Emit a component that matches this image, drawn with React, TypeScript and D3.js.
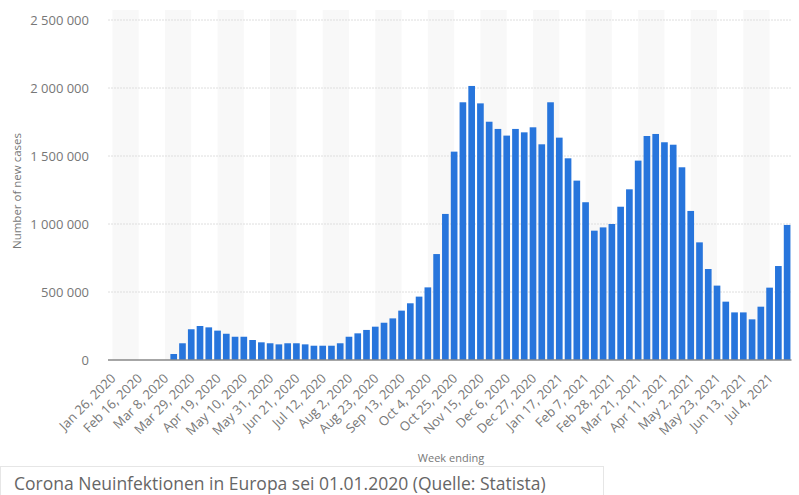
import React, { useEffect, useRef } from 'react';
import * as d3 from 'd3';

// weekly new cases in Europe, week ending Jan 26 2020 .. Jul 18 2021
const newCases: number[] = [
  0, 0, 0, 0, 0, 0, 0, 44000, 123000, 226000,
  250000, 240000, 216000, 193000, 171000, 171000, 147000, 130000, 123000, 115000,
  123000, 123000, 115000, 105000, 105000, 105000, 123000, 171000, 196000, 221000,
  245000, 274000, 306000, 363000, 417000, 466000, 534000, 779000, 1074000, 1532000,
  1895000, 2015000, 1887000, 1752000, 1699000, 1650000, 1699000, 1674000, 1711000, 1586000,
  1895000, 1635000, 1483000, 1319000, 1160000, 951000, 975000, 1000000, 1127000, 1255000,
  1466000, 1647000, 1662000, 1601000, 1583000, 1417000, 1096000, 865000, 669000, 547000,
  429000, 350000, 350000, 299000, 392000, 532000, 691000, 993000,
];

// one label every third week
const tickLabels: string[] = [
  'Jan 26, 2020', 'Feb 16, 2020', 'Mar 8, 2020', 'Mar 29, 2020', 'Apr 19, 2020',
  'May 10, 2020', 'May 31, 2020', 'Jun 21, 2020', 'Jul 12, 2020', 'Aug 2, 2020',
  'Aug 23, 2020', 'Sep 13, 2020', 'Oct 4, 2020', 'Oct 25, 2020', 'Nov 15, 2020',
  'Dec 6, 2020', 'Dec 27, 2020', 'Jan 17, 2021', 'Feb 7, 2021', 'Feb 28, 2021',
  'Mar 21, 2021', 'Apr 11, 2021', 'May 2, 2021', 'May 23, 2021', 'Jun 13, 2021',
  'Jul 4, 2021',
];

const yTicks: number[] = [0, 500000, 1000000, 1500000, 2000000, 2500000];

const caption = 'Corona Neuinfektionen in Europa sei 01.01.2020 (Quelle: Statista)';

const W = 799;
const H = 495;
const FONT = '"Open Sans", sans-serif';

const CasesChart = () => {
  const svgRef = useRef<SVGSVGElement>(null);

  useEffect(() => {
    if (!svgRef.current) return;
    const svg = d3.select(svgRef.current);
    svg.selectAll('*').remove();

    const left = 108;
    const right = 791.5;
    const top = 20;
    const bottom = 360;

    const x = d3.scaleBand<number>()
      .domain(d3.range(newCases.length))
      .range([left, right])
      .paddingInner(0.24)
      .paddingOuter(0.12);

    const y = d3.scaleLinear().domain([0, 2500000]).range([bottom, top]);
    const fmt = d3.formatLocale({ decimal: '.', thousands: ' ', grouping: [3], currency: ['', ''] }).format(',d');

    const center = (i: number) => (x(i) ?? 0) + x.bandwidth() / 2;

    // alternating background bands between label ticks
    const bands = svg.append('g');
    for (let k = 0; k + 1 < tickLabels.length; k += 2) {
      const x0 = center(k * 3);
      const x1 = center(k * 3 + 3);
      bands.append('rect')
        .attr('x', x0).attr('y', top - 10)
        .attr('width', x1 - x0).attr('height', bottom - top + 10)
        .attr('fill', '#f8f8f8');
    }

    // gridlines + y labels
    const grid = svg.append('g');
    yTicks.forEach(t => {
      if (t > 0) {
        grid.append('line')
          .attr('x1', left).attr('x2', right)
          .attr('y1', y(t)).attr('y2', y(t))
          .attr('stroke', '#dedede')
          .attr('stroke-dasharray', '2,1');
      }
      grid.append('text')
        .attr('x', 89).attr('y', y(t))
        .attr('dy', '0.35em')
        .attr('text-anchor', 'end')
        .attr('font-family', FONT)
        .attr('font-size', 13)
        .attr('fill', '#777')
        .text(fmt(t));
    });

    svg.append('text')
      .attr('transform', `translate(21,191) rotate(-90)`)
      .attr('text-anchor', 'middle')
      .attr('font-family', FONT)
      .attr('font-size', 11.5)
      .attr('fill', '#777')
      .text('Number of new cases');

    // bars
    svg.append('g')
      .selectAll('rect')
      .data(newCases)
      .join('rect')
      .attr('x', (_, i) => x(i) ?? 0)
      .attr('y', d => y(d))
      .attr('width', x.bandwidth())
      .attr('height', d => bottom - y(d))
      .attr('fill', '#2775dc');

    // baseline
    svg.append('line')
      .attr('x1', left).attr('x2', right)
      .attr('y1', bottom).attr('y2', bottom)
      .attr('stroke', '#888')
      .attr('stroke-width', 1.5);

    // x labels
    svg.append('g')
      .selectAll('text')
      .data(tickLabels)
      .join('text')
      .attr('transform', (_, k) => `translate(${center(k * 3) + 1},${bottom + 16}) rotate(-45)`)
      .attr('text-anchor', 'end')
      .attr('dy', '0.35em')
      .attr('font-family', FONT)
      .attr('font-size', 13)
      .attr('fill', '#777')
      .text(d => d);

    svg.append('text')
      .attr('x', 451).attr('y', 458)
      .attr('dy', '0.35em')
      .attr('text-anchor', 'middle')
      .attr('font-family', FONT)
      .attr('font-size', 11)
      .attr('fill', '#777')
      .text('Week ending');

    // caption box
    svg.append('rect')
      .attr('x', 0.5).attr('y', 466.5)
      .attr('width', 603).attr('height', 40)
      .attr('fill', '#fff')
      .attr('stroke', '#e6e6e6');

    svg.append('text')
      .attr('x', 14).attr('y', 484)
      .attr('dy', '0.35em')
      .attr('font-family', FONT)
      .attr('font-size', 17.5)
      .attr('fill', '#666')
      .text(caption);
  }, []);

  return (
    <svg
      ref={svgRef}
      width={W}
      height={H}
      style={{ position: 'absolute', left: 0, top: 0, background: '#fff' }}
    />
  );
};

export default function App() {
  return <CasesChart />;
}
